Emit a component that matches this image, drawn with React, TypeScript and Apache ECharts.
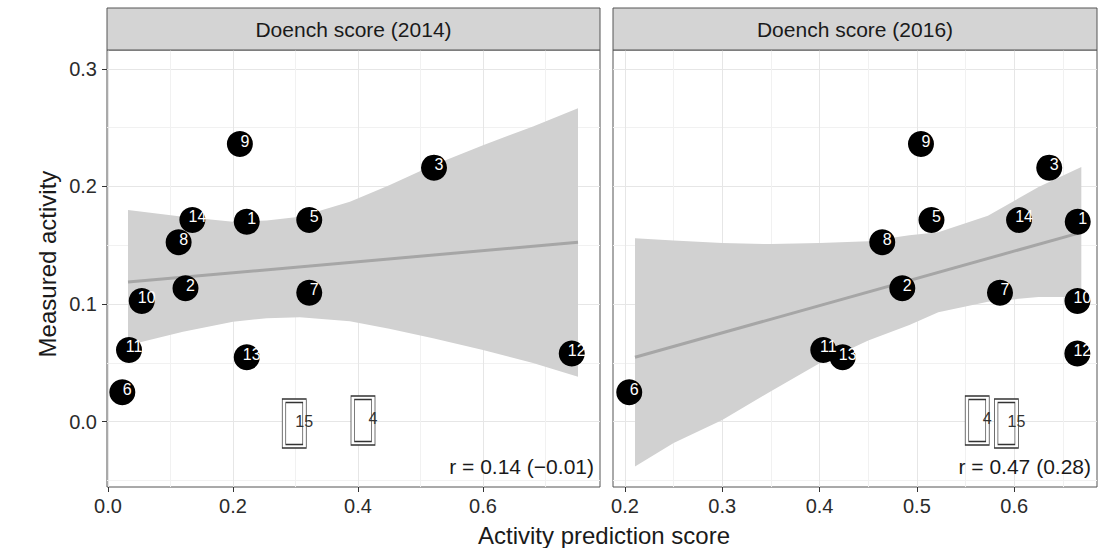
import React, { useEffect, useRef } from "react";
import * as echarts from "echarts";

const panelTitles = ["Doench score (2014)", "Doench score (2016)"];
const guideIds = ["1", "2", "3", "4", "5", "6", "7", "8", "9", "10", "11", "12", "13", "14", "15"];
const measured = [0.170, 0.1134, 0.216, 0.001, 0.1715, 0.025, 0.1097, 0.1525, 0.236, 0.1027, 0.061, 0.058, 0.0548, 0.1715, -0.0015];
const score2014 = [0.222, 0.124, 0.5216, 0.408, 0.322, 0.0229, 0.322, 0.113, 0.211, 0.054, 0.0336, 0.742, 0.222, 0.135, 0.298];
const score2016 = [0.6653, 0.485, 0.636, 0.562, 0.515, 0.2044, 0.5854, 0.4644, 0.5042, 0.665, 0.4038, 0.6649, 0.4237, 0.605, 0.592];
const boxedIds = ["4", "15"];

// regression fit lines
const fit2014 = [[0.032, 0.1187], [0.752, 0.1526]];
const fit2016 = [[0.2103, 0.0548], [0.669, 0.161]];

// confidence band
const band2014X = [0.032, 0.12, 0.2, 0.254, 0.307, 0.387, 0.45, 0.52, 0.6, 0.68, 0.752];
const band2014Lo = [0.065, 0.0765, 0.085, 0.088, 0.0888, 0.0855, 0.079, 0.071, 0.061, 0.05, 0.0383];
const band2014Hi = [0.180, 0.1743, 0.170, 0.171, 0.1743, 0.187, 0.201, 0.218, 0.235, 0.251, 0.2665];
const band2016X = [0.2103, 0.25, 0.3, 0.35, 0.4, 0.45, 0.4923, 0.522, 0.573, 0.625, 0.669];
const band2016Lo = [-0.038, -0.018, 0.0014, 0.026, 0.0496, 0.069, 0.0822, 0.093, 0.102, 0.106, 0.106];
const band2016Hi = [0.156, 0.154, 0.152, 0.151, 0.152, 0.1535, 0.1586, 0.161, 0.175, 0.1995, 0.2166];

const rLabels = ["r = 0.14 (\u22120.01)", "r = 0.47 (0.28)"];
const xTitle = "Activity prediction score";
const yTitle = "Measured activity";

const yMajor = [0, 0.1, 0.2, 0.3];
const yMinor = [-0.05, 0.05, 0.15, 0.25];
const x2014Major = [0, 0.2, 0.4, 0.6];
const x2014Minor = [0.1, 0.3, 0.5, 0.7];
const x2016Major = [0.2, 0.3, 0.4, 0.5, 0.6];
const x2016Minor = [0.25, 0.35, 0.45, 0.55, 0.65];

const FONT = "'Liberation Sans', Arial, sans-serif";

export default function App() {
  const ref = useRef<HTMLDivElement>(null);
  useEffect(() => {
    document.body.style.margin = "0";
    const chart = echarts.init(ref.current!, undefined, { renderer: "svg" });

    const grids = [
      { left: 107, top: 50, width: 493, height: 437 },
      { left: 613, top: 50, width: 484, height: 437 },
    ];
    const xRanges = [
      [-0.0016, 0.7872],
      [0.1877, 0.6851],
    ];
    const yRange = [-0.0555, 0.316];

    const majorX = (gi: number, vals: number[]) => ({
      type: "value",
      gridIndex: gi,
      min: xRanges[gi][0],
      max: xRanges[gi][1],
      position: "bottom",
      axisLine: { show: false, onZero: false },
      axisTick: { show: true, length: 5, lineStyle: { color: "#333", width: 1 }, customValues: vals },
      axisLabel: {
        show: true,
        customValues: vals,
        formatter: (v: number) => v.toFixed(1),
        fontSize: 20,
        fontFamily: FONT,
        color: "#2b2b2b",
        margin: 9,
      },
      splitLine: { show: true, lineStyle: { color: "#e6e6e6", width: 1 } },
    });
    const minorX = (gi: number, vals: number[]) => ({
      type: "value",
      gridIndex: gi,
      min: xRanges[gi][0],
      max: xRanges[gi][1],
      position: "top",
      axisLine: { show: false, onZero: false },
      axisTick: { show: false, customValues: vals },
      axisLabel: { show: false, customValues: vals },
      splitLine: { show: true, lineStyle: { color: "#f1f1f1", width: 1 } },
    });
    const majorY = (gi: number, showLabels: boolean) => ({
      type: "value",
      gridIndex: gi,
      min: yRange[0],
      max: yRange[1],
      position: "left",
      axisLine: { show: false, onZero: false },
      axisTick: { show: showLabels, length: 5, lineStyle: { color: "#333", width: 1 }, customValues: yMajor },
      axisLabel: {
        show: showLabels,
        customValues: yMajor,
        formatter: (v: number) => v.toFixed(1),
        fontSize: 20,
        fontFamily: FONT,
        color: "#2b2b2b",
        margin: 10,
      },
      splitLine: { show: true, lineStyle: { color: "#e6e6e6", width: 1 } },
    });
    const minorY = (gi: number) => ({
      type: "value",
      gridIndex: gi,
      min: yRange[0],
      max: yRange[1],
      position: "right",
      axisLine: { show: false, onZero: false },
      axisTick: { show: false, customValues: yMinor },
      axisLabel: { show: false, customValues: yMinor },
      splitLine: { show: true, lineStyle: { color: "#f1f1f1", width: 1 } },
    });

    const bandSeries = (xs: number[], lo: number[], hi: number[], ai: number) => ({
      type: "custom",
      xAxisIndex: ai,
      yAxisIndex: ai,
      silent: true,
      z: 2,
      data: [[xs[0], lo[0]]],
      renderItem: (_p: any, api: any) => {
        const pts: number[][] = [];
        for (let i = 0; i < xs.length; i++) pts.push(api.coord([xs[i], hi[i]]));
        for (let i = xs.length - 1; i >= 0; i--) pts.push(api.coord([xs[i], lo[i]]));
        return { type: "polygon", shape: { points: pts }, style: { fill: "#d1d1d1", stroke: "none" } };
      },
    });

    const fitSeries = (pts: number[][], ai: number) => ({
      type: "line",
      xAxisIndex: ai,
      yAxisIndex: ai,
      data: pts,
      symbol: "none",
      silent: true,
      z: 3,
      lineStyle: { color: "#a6a6a6", width: 3 },
    });

    const pointSeries = (xs: number[], ai: number) => ({
      type: "scatter",
      xAxisIndex: ai,
      yAxisIndex: ai,
      z: 4,
      symbol: "circle",
      symbolSize: 26,
      itemStyle: { color: "#000", opacity: 1 },
      label: {
        show: true,
        formatter: "{b}",
        position: "inside",
        offset: [5, -3],
        color: "#fff",
        fontSize: 16,
        fontFamily: FONT,
      },
      data: guideIds
        .map((id, i) => ({ name: id, value: [xs[i], measured[i]] }))
        .filter((d) => !boxedIds.includes(d.name)),
    });

    const boxSeries = (xs: number[], ai: number, inner: boolean) => ({
      type: "scatter",
      xAxisIndex: ai,
      yAxisIndex: ai,
      z: inner ? 6 : 5,
      symbol: "rect",
      symbolSize: inner ? [17, 42] : [24, 49],
      itemStyle: {
        color: inner ? "rgba(255,255,255,0)" : "#fff",
        borderColor: "#333",
        borderWidth: 1,
        opacity: 1,
      },
      label: inner
        ? {
            show: true,
            formatter: "{b}",
            position: "inside",
            offset: [10, -2],
            color: "#333",
            fontSize: 16,
            fontFamily: FONT,
          }
        : { show: false },
      data: guideIds
        .map((id, i) => ({ name: id, value: [xs[i], measured[i]] }))
        .filter((d) => boxedIds.includes(d.name)),
    });

    const stripGraphics = grids.flatMap((g, i) => [
      {
        type: "rect",
        shape: { x: g.left, y: 8, width: g.width, height: 42 },
        style: { fill: "#d4d4d4", stroke: "#555", lineWidth: 1 },
        z: 10,
      },
      {
        type: "text",
        x: g.left + g.width / 2,
        y: 29,
        style: {
          text: panelTitles[i],
          align: "center",
          verticalAlign: "middle",
          font: `21px ${FONT}`,
          fill: "#1a1a1a",
        },
        z: 11,
      },
      {
        type: "text",
        x: g.left + g.width - 6,
        y: 466,
        style: {
          text: rLabels[i],
          align: "right",
          verticalAlign: "middle",
          font: `21px ${FONT}`,
          fill: "#1a1a1a",
        },
        z: 11,
      },
    ]);

    chart.setOption({
      animation: false,
      backgroundColor: "#fff",
      grid: grids.map((g) => ({
        ...g,
        show: true,
        backgroundColor: "#fff",
        borderColor: "#555",
        borderWidth: 1,
      })),
      xAxis: [majorX(0, x2014Major), minorX(0, x2014Minor), majorX(1, x2016Major), minorX(1, x2016Minor)],
      yAxis: [majorY(0, true), minorY(0), majorY(1, false), minorY(1)],
      series: [
        bandSeries(band2014X, band2014Lo, band2014Hi, 0),
        fitSeries(fit2014, 0),
        pointSeries(score2014, 0),
        boxSeries(score2014, 0, false),
        boxSeries(score2014, 0, true),
        bandSeries(band2016X, band2016Lo, band2016Hi, 2),
        fitSeries(fit2016, 2),
        pointSeries(score2016, 2),
        boxSeries(score2016, 2, false),
        boxSeries(score2016, 2, true),
      ],
      graphic: [
        ...stripGraphics,
        {
          type: "text",
          x: 604,
          y: 535,
          style: { text: xTitle, align: "center", verticalAlign: "middle", font: `24px ${FONT}`, fill: "#1a1a1a" },
        },
        {
          type: "text",
          x: 47,
          y: 264,
          rotation: Math.PI / 2,
          style: { text: yTitle, align: "center", verticalAlign: "middle", font: `24px ${FONT}`, fill: "#1a1a1a" },
        },
      ],
    });
    return () => chart.dispose();
  }, []);
  return <div ref={ref} style={{ width: 1099, height: 548 }} />;
}
